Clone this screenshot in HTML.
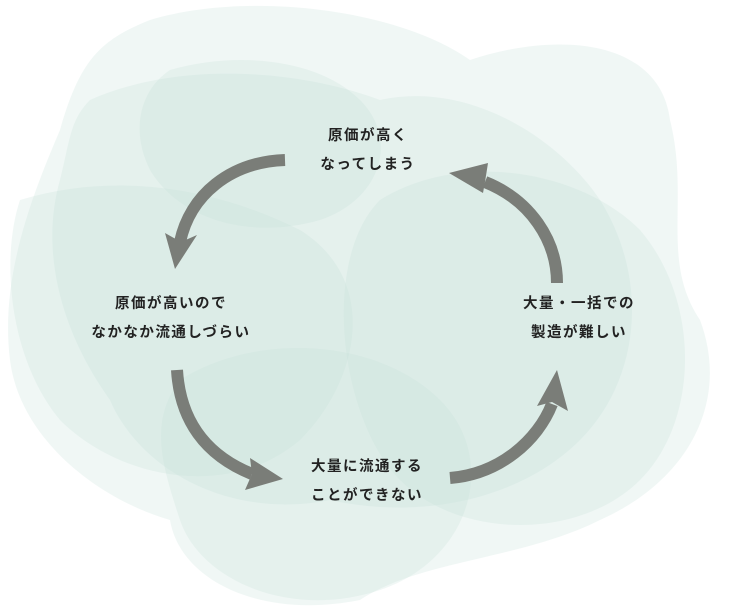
<!DOCTYPE html>
<html><head><meta charset="utf-8"><style>
html,body{margin:0;padding:0;background:#fff}
.w{position:relative;width:736px;height:610px;overflow:hidden}
svg{position:absolute;left:0;top:0}
.t{position:absolute;font-family:"Liberation Sans","Noto Sans CJK JP",sans-serif;font-weight:bold;font-size:14.5px;letter-spacing:1.5px;color:#222;text-align:center;line-height:29px;white-space:nowrap;transform:translateX(-50%)}
</style></head><body><div class="w">
<svg width="736" height="610" viewBox="0 0 736 610">
<g fill="#c6e2da" fill-opacity="0.26">
<path d="M150 20 C250 -10 400 10 470 60 C560 30 660 40 670 120 C690 200 660 260 700 320 C730 400 690 480 600 520 C520 560 420 560 360 600 C260 620 180 580 170 520 C100 500 20 440 10 360 C0 280 30 200 60 130 C80 60 100 40 150 20Z"/>
<path d="M90 100 C180 60 300 70 380 100 C470 80 560 140 600 200 C650 280 640 380 580 440 C520 500 420 520 330 500 C230 520 140 470 110 400 C60 330 40 250 60 180 C70 140 70 120 90 100Z"/>
<path d="M20 200 C120 170 220 190 300 230 C380 280 360 380 300 440 C230 500 120 480 60 420 C10 360 0 260 20 200Z"/>
<path d="M380 200 C460 150 580 170 640 230 C700 300 700 420 640 480 C580 540 460 540 400 480 C340 420 320 260 380 200Z"/>
<path d="M180 380 C260 330 380 340 440 400 C500 460 470 560 380 590 C290 620 200 580 180 520 C160 460 150 420 180 380Z"/>
<path d="M170 70 C240 50 320 60 360 100 C400 140 380 200 320 220 C250 240 180 220 150 170 C130 130 140 90 170 70Z"/>
</g>
<g fill="none" stroke="#7a7d78" stroke-width="12">
<path d="M285 160 C230 162 190 195 180 242"/>
<path d="M177 370 C180 420 205 455 252 474"/>
<path d="M450 478 C500 474 538 440 552 404"/>
<path d="M557 283 C557 240 530 200 485 182"/>
</g>
<g fill="#7a7d78">
<path d="M175 269 L165 233 L181 242 L197 235Z"/>
<path d="M283 479 L250 458 L252 474 L245 490Z"/>
<path d="M557 370 L537 406 L552 402 L568 411Z"/>
<path d="M449 173 L488 163 L485 182 L483 193Z"/>
</g>
</svg>
<div class="t" style="left:368px;top:122px">原価が高く<br>なってしまう</div>
<div class="t" style="left:171px;top:290px">原価が高いので<br>なかなか流通しづらい</div>
<div class="t" style="left:579px;top:290px">大量・一括での<br>製造が難しい</div>
<div class="t" style="left:367px;top:453px">大量に流通する<br>ことができない</div>
</div></body></html>
